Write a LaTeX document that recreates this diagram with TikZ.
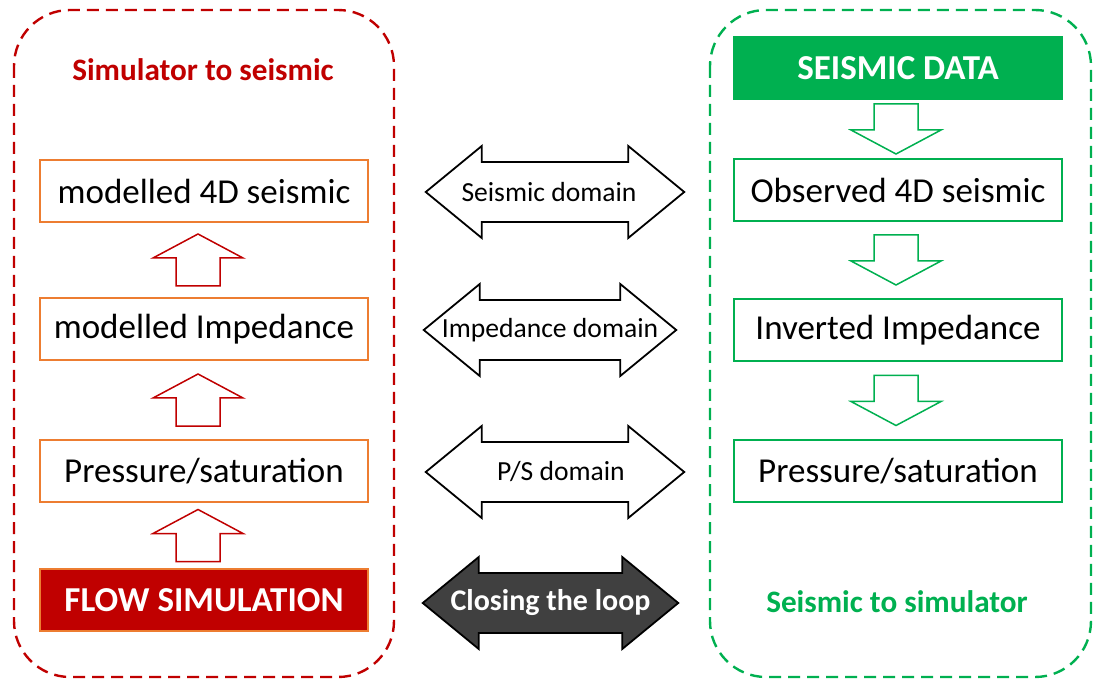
\documentclass[tikz,border=0pt]{standalone}
\usepackage{fontspec}
\setmainfont{Carlito}
\usetikzlibrary{calc}
\definecolor{simred}{HTML}{C00000}
\definecolor{boxorange}{HTML}{ED7D31}
\definecolor{seisgreen}{HTML}{00B050}
\definecolor{loopgray}{HTML}{404040}
\tikzset{stage/.style={draw, line width=0.75pt, fill=white, minimum width=164pt, minimum height=31pt, inner sep=0pt, font=\fontsize{17.5}{20}\selectfont}, simbox/.style={stage, draw=boxorange}, seisbox/.style={stage, draw=seisgreen}, headbox/.style={font=\bfseries\fontsize{17.5}{20}\selectfont, text=white}, frame/.style={dash pattern=on 6pt off 3.5pt, line width=1.2pt, rounded corners=28pt}, sidetitle/.style={font=\bfseries\fontsize{15.6}{18}\selectfont}, uparr/.style={draw=simred, fill=white, line width=0.75pt}, downarr/.style={draw=seisgreen, fill=white, line width=0.75pt}, domarr/.style={draw=black, fill=white, line width=0.9pt}, looparr/.style={draw=black, fill=loopgray, line width=0.9pt}, domtext/.style={font=\fontsize{13.8}{16}\selectfont, inner sep=0pt}}
% block arrow from #2 (tail) to #3 (tip)
\newcommand\blockarrow[3]{%
\coordinate (bh) at ($(#3)!12pt!(#2)$);
\draw[#1] ($(#2)!11pt!90:(#3)$) -- ($(bh)!11pt!90:(#3)$) -- ($(bh)!22.5pt!90:(#3)$) -- (#3)
-- ($(bh)!22.5pt!-90:(#3)$) -- ($(bh)!11pt!-90:(#3)$) -- ($(#2)!11pt!-90:(#3)$) -- cycle;}
% double headed block arrow between #2 and #3
\newcommand\domainarrow[3]{%
\coordinate (dl) at ($(#2)!28pt!(#3)$);
\coordinate (dr) at ($(#3)!28pt!(#2)$);
\draw[#1] (#2) -- ($(dl)!23pt!90:(#3)$) -- ($(dl)!15pt!90:(#3)$) -- ($(dr)!15pt!-90:(#2)$) -- ($(dr)!23pt!-90:(#2)$) -- (#3)
-- ($(dr)!23pt!90:(#2)$) -- ($(dr)!15pt!90:(#2)$) -- ($(dl)!15pt!-90:(#3)$) -- ($(dl)!23pt!-90:(#3)$) -- cycle;}

\begin{document}
\begin{tikzpicture}[x=0.5pt,y=-0.5pt]
\useasboundingbox (0,0) rectangle (1093,679);
% frames
\draw[frame, simred] (14,10) rectangle (394,677);
\draw[frame, seisgreen] (710,10) rectangle (1091,677);
\node[sidetitle, text=simred] (simtitle) at (203,70) {Simulator to seismic};
\node[sidetitle, text=seisgreen] (seistitle) at (897,602) {Seismic to simulator};
% simulator side
\node[simbox] (m4d) at (204,191) {modelled 4D seismic};
\node[simbox] (mi) at (204,329) {modelled Impedance};
\node[simbox] (ps) at (204,471) {Pressure/saturation};
\node[simbox, fill=simred, headbox] (flow) at (204,600) {FLOW SIMULATION};
% seismic side
\node[seisbox, fill=seisgreen, headbox] (sd) at (898,68) {SEISMIC DATA};
\node[seisbox] (o4d) at (898,190) {Observed 4D seismic};
\node[seisbox] (ii) at (898,330) {Inverted Impedance};
\node[seisbox] (ps2) at (898,471) {Pressure/saturation};
% up arrows
\foreach \lo/\hi in {mi/m4d, ps/mi, flow/ps}{
\coordinate (ua) at ($(\lo.north)!0.5!(\hi.south)+(-6,26)$);
\coordinate (ub) at ($(\lo.north)!0.5!(\hi.south)+(-6,-26)$);
\blockarrow{uparr}{ua}{ub}
}
% down arrows
\foreach \hi/\lo in {sd/o4d, o4d/ii, ii/ps2}{
\coordinate (da) at ($(\hi.south)!0.5!(\lo.north)+(-2,-25)$);
\coordinate (db) at ($(\hi.south)!0.5!(\lo.north)+(-2,25)$);
\blockarrow{downarr}{da}{db}
}
% domain arrows
\coordinate (sdL) at ($(m4d.east)+(57,1)$);
\coordinate (sdR) at ($(o4d.west)+(-49,2)$);
\domainarrow{domarr}{sdL}{sdR}
\node[domtext] (sdom) at ($(sdL)!0.5!(sdR)+(-6,0)$) {Seismic domain};
\coordinate (idL) at ($(mi.east)+(55,1)$);
\coordinate (idR) at ($(ii.west)+(-57,0)$);
\domainarrow{domarr}{idL}{idR}
\node[domtext] (idom) at ($(idL)!0.5!(idR)$) {Impedance domain};
\coordinate (psL) at ($(ps.east)+(57,1)$);
\coordinate (psR) at ($(ps2.west)+(-49,1)$);
\domainarrow{domarr}{psL}{psR}
\node[domtext] (psdom) at ($(psL)!0.5!(psR)+(6,0)$) {P/S domain};
\coordinate (clL) at ($(flow.east)+(54,3)$);
\coordinate (clR) at ($(ps2.west |- flow.east)+(-55,3)$);
\domainarrow{looparr}{clL}{clR}
\node[domtext, font=\bfseries\fontsize{15}{18}\selectfont, text=white] (cloop) at ($(clL)!0.5!(clR)$) {Closing the loop};
\end{tikzpicture}
\end{document}
